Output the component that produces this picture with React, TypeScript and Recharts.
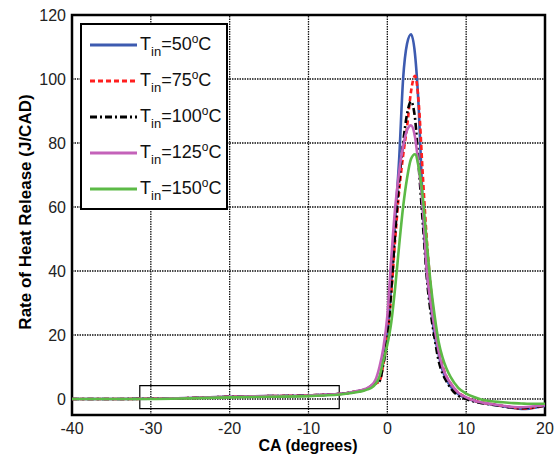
import React from "react";
import {
  LineChart,
  Line,
  XAxis,
  YAxis,
  ReferenceArea,
  ReferenceLine,
} from "recharts";

// crank angle samples (degrees)
const crankAngle = [
  -40, -35, -30, -25, -20, -15, -10, -8, -6, -5, -4, -3, -2.5, -2, -1.5, -1, -0.5,
  0, 0.5, 1, 1.5, 2, 2.5, 3, 3.5, 4, 4.5, 5, 5.5, 6, 6.5, 7, 7.5, 8, 9, 10, 11, 12,
  13, 14, 15, 16, 17, 18, 19, 20,
];

// rate of heat release (J/CAD) for each intake temperature
const hrr50 = [
  0, 0, 0.1, 0.3, 0.7, 0.9, 1.1, 1.3, 1.6, 1.9, 2.3, 2.8, 3.3, 4.2, 5, 6, 12,
  20, 36, 56, 75, 100, 111, 114, 108, 90, 60, 40, 29, 20, 14, 9, 6, 4, 1.5, 0.3, -0.6, -1.2,
  -1.6, -2.0, -2.4, -2.8, -3.1, -3.0, -2.6, -2.2,
];
const hrr75 = [
  0, 0, 0.1, 0.3, 0.7, 0.9, 1.1, 1.3, 1.6, 1.9, 2.3, 2.8, 3.3, 4.0, 4.8, 5.5, 11,
  19, 33, 50, 65, 76, 85, 96, 101, 92, 70, 50, 35, 24, 16, 10.5, 7, 5, 2, 0.5, -0.5, -1.1,
  -1.5, -1.9, -2.3, -2.7, -3.0, -2.9, -2.5, -2.1,
];
const hrr100 = [
  0, 0, 0.1, 0.3, 0.7, 0.9, 1.1, 1.3, 1.6, 1.9, 2.3, 2.8, 3.3, 4.1, 4.9, 5.5, 11,
  19, 34, 52, 68, 80, 89, 93, 88, 72, 55, 38, 27, 19, 12, 8, 5.5, 3.5, 1, 0, -0.8, -1.3,
  -1.7, -2.0, -2.4, -2.7, -2.9, -2.7, -2.4, -2.0,
];
const hrr125 = [
  0, 0, 0.1, 0.3, 0.7, 0.9, 1.1, 1.3, 1.6, 1.9, 2.4, 3.0, 3.5, 4.3, 6, 10, 16,
  26, 44, 60, 71, 79, 84, 85.5, 82, 72, 60, 40, 30, 22, 15, 10, 7, 5, 2, 0.5, -0.5, -1.1,
  -1.5, -1.9, -2.2, -2.5, -2.6, -2.4, -2.2, -1.9,
];
const hrr150 = [
  0, 0, 0, 0.2, 0.5, 0.7, 0.9, 1.1, 1.4, 1.7, 2.1, 2.6, 3.0, 3.5, 4.7, 7, 12,
  17, 24, 35, 48, 60, 69, 75, 76.5, 72, 63, 49, 36, 26, 18, 13, 9.5, 7, 3.5, 1.7, 0.6, -0.2,
  -0.6, -0.9, -1.1, -1.3, -1.4, -1.5, -1.5, -1.5,
];

const xTicks = [-40, -30, -20, -10, 0, 10, 20];
const yTicks = [0, 20, 40, 60, 80, 100, 120];

const data = crankAngle.map((ca, i) => ({
  ca,
  t50: hrr50[i],
  t75: hrr75[i],
  t100: hrr100[i],
  t125: hrr125[i],
  t150: hrr150[i],
}));

const series = [
  { key: "t50", temp: "50", color: "#3d5bb0", dash: undefined },
  { key: "t75", temp: "75", color: "#ff1f1f", dash: "5 3" },
  { key: "t100", temp: "100", color: "#000000", dash: "7 3 2 3" },
  { key: "t125", temp: "125", color: "#c462b9", dash: undefined },
  { key: "t150", temp: "150", color: "#5cba46", dash: undefined },
];

const FONT = "'Liberation Sans', Arial, sans-serif";

function LegendBox() {
  return (
    <div
      style={{
        position: "absolute",
        left: 80,
        top: 23,
        width: 144,
        height: 183,
        border: "2px solid #000",
        background: "#fff",
        fontFamily: FONT,
        color: "#111",
      }}
    >
      {series.map((s, i) => (
        <div
          key={s.key}
          style={{
            position: "absolute",
            left: 0,
            top: 8 + i * 36,
            height: 24,
            display: "flex",
            alignItems: "center",
          }}
        >
          <svg width={58} height={24} style={{ display: "block" }}>
            <line
              x1={8}
              x2={55}
              y1={12}
              y2={12}
              stroke={s.color}
              strokeWidth={3}
              strokeDasharray={s.dash}
            />
          </svg>
          <span style={{ fontSize: 18, whiteSpace: "nowrap", lineHeight: "18px" }}>
            T
            <span style={{ fontSize: 13, position: "relative", top: 6 }}>in</span>
            ={s.temp}
            <span style={{ fontSize: 12, position: "relative", top: -7 }}>o</span>
            C
          </span>
        </div>
      ))}
    </div>
  );
}

export default function App() {
  return (
    <div
      style={{
        position: "absolute",
        left: 0,
        top: 0,
        width: 556,
        height: 454,
        background: "#fff",
        overflow: "hidden",
      }}
    >
      <LineChart
        width={556}
        height={454}
        data={data}
        margin={{ top: 15, right: 11, bottom: 0, left: 0 }}
      >
        <XAxis
          dataKey="ca"
          type="number"
          domain={[-40, 20]}
          ticks={xTicks}
          allowDataOverflow
          height={39}
          tickLine={false}
          axisLine={false}
          tickSize={4}
          tickMargin={4}
          tick={{ fill: "#222", fontSize: 16, fontFamily: FONT }}
        />
        <YAxis
          type="number"
          domain={[-5, 120]}
          ticks={yTicks}
          allowDataOverflow
          width={72}
          tickLine={false}
          axisLine={false}
          tickSize={4}
          tickMargin={2}
          tick={{ fill: "#222", fontSize: 16, fontFamily: FONT }}
        />
        {/* dotted grid, like MATLAB's grid on */}
        {xTicks.slice(1, -1).map((t) => (
          <ReferenceLine key={"gx" + t} x={t} stroke="#111" strokeDasharray="1.5 1" strokeWidth={1.3} />
        ))}
        {yTicks.slice(0, -1).map((t) => (
          <ReferenceLine key={"gy" + t} y={t} stroke="#111" strokeDasharray="1.5 1" strokeWidth={1.3} />
        ))}
        {series.map((s) => (
          <Line
            key={s.key}
            dataKey={s.key}
            type="monotone"
            stroke={s.color}
            strokeWidth={2.6}
            strokeDasharray={s.dash}
            dot={false}
            activeDot={false}
            isAnimationActive={false}
          />
        ))}
        <ReferenceArea
          x1={-31.4}
          x2={-6.1}
          y1={-3}
          y2={4.2}
          fill="none"
          stroke="#000"
          strokeWidth={1.2}
        />
        <ReferenceArea
          x1={-40}
          x2={20}
          y1={-5}
          y2={120}
          fill="none"
          stroke="#000"
          strokeWidth={2.5}
        />
      </LineChart>
      <LegendBox />
      <div
        style={{
          position: "absolute",
          left: 308,
          top: 446,
          transform: "translate(-50%, -50%)",
          fontFamily: FONT,
          fontWeight: "bold",
          fontSize: 16,
          lineHeight: "16px",
          whiteSpace: "nowrap",
          color: "#000",
        }}
      >
        CA (degrees)
      </div>
      <div
        style={{
          position: "absolute",
          left: 26,
          top: 212,
          transform: "translate(-50%, -50%) rotate(-90deg)",
          fontFamily: FONT,
          fontWeight: "bold",
          fontSize: 17,
          whiteSpace: "nowrap",
          color: "#000",
        }}
      >
        Rate of Heat Release (J/CAD)
      </div>
    </div>
  );
}
